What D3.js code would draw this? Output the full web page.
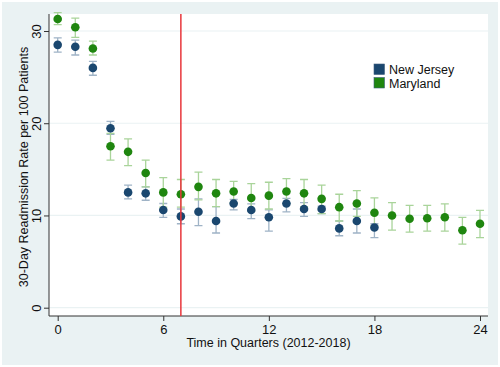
<!DOCTYPE html>
<html lang="en">
<head>
<meta charset="utf-8">
<title>Readmission Rates</title>
<style>
  body { margin: 0; background: #fff; }
  text { font-family: "Liberation Sans", Arial, sans-serif; fill: #111; }
  .ci { fill: none; stroke-width: 1.3px; }
</style>
</head>
<body>
<script src="https://d3js.org/d3.v7.min.js"></script>
<script>
  // quarters since 2012 Q1
  const quarters = d3.range(0, 25);

  // New Jersey (quarters 0-18)
  const njMean = [28.5, 28.3, 26.0, 19.45, 12.5, 12.4, 10.6, 9.9, 10.4, 9.4, 11.3, 10.6, 9.8, 11.3, 10.7, 10.7, 8.6, 9.4, 8.7];
  const njLo   = [27.7, 27.4, 25.2, 18.8, 11.8, 11.65, 9.8, 9.1, 8.9, 8.1, 10.6, 9.65, 8.3, 10.4, 9.9, 10.2, 7.8, 8.1, 7.6];
  const njHi   = [29.25, 29.0, 26.7, 20.2, 13.3, 13.1, 11.3, 10.7, 11.8, 10.95, 11.75, 11.25, 10.6, 11.85, 11.4, 11.0, 9.4, 10.7, 9.1];

  // Maryland (quarters 0-24)
  const mdMean = [31.3, 30.4, 28.1, 17.5, 16.9, 14.6, 12.5, 12.3, 13.1, 12.4, 12.6, 11.9, 12.15, 12.6, 12.4, 11.8, 10.9, 11.3, 10.3, 10.0, 9.65, 9.7, 9.8, 8.4, 9.1];
  const mdLo   = [30.7, 29.3, 27.4, 16.0, 15.4, 13.1, 10.9, 10.9, 11.7, 10.95, 11.4, 10.5, 10.7, 11.3, 10.95, 10.2, 9.4, 9.9, 8.9, 8.4, 8.2, 8.3, 8.3, 6.9, 7.6];
  const mdHi   = [32.0, 31.4, 28.9, 18.9, 18.3, 16.0, 14.1, 13.9, 14.7, 13.9, 13.7, 13.45, 13.6, 14.0, 13.9, 13.3, 12.3, 12.7, 11.9, 11.4, 11.1, 11.1, 11.25, 9.8, 10.55];

  const xTicks = [0, 6, 12, 18, 24];
  const yTicks = [0, 10, 20, 30];
  const policyQuarter = 7;

  const series = [
    {name: "New Jersey", mean: njMean, lo: njLo, hi: njHi, dot: "#1a476f", bar: "#9fb3c6"},
    {name: "Maryland", mean: mdMean, lo: mdLo, hi: mdHi, dot: "#1f860f", bar: "#a9d49a"}
  ];

  const W = 500, H = 367;
  const plot = {left: 49, right: 488, top: 14, bottom: 316};

  const x = d3.scaleLinear().domain([0, 24]).range([57.7, 480]);
  const y = d3.scaleLinear().domain([0, 30]).range([307.7, 31]);

  const svg = d3.select("body").append("svg")
    .attr("width", W)
    .attr("height", H);

  // outer background
  svg.append("rect")
    .attr("x", 2).attr("y", 2)
    .attr("width", W - 4).attr("height", H - 4)
    .attr("fill", "#eaf2f3");

  // plot region
  svg.append("rect")
    .attr("x", plot.left).attr("y", plot.top)
    .attr("width", plot.right - plot.left)
    .attr("height", plot.bottom - plot.top)
    .attr("fill", "#fff");

  // grid lines
  svg.append("g").selectAll("line")
    .data(yTicks)
    .join("line")
    .attr("x1", plot.left).attr("x2", plot.right)
    .attr("y1", d => y(d)).attr("y2", d => y(d))
    .attr("stroke", "#eaf2f3")
    .attr("stroke-width", 1.2);

  // y axis
  const yAxis = svg.append("g")
    .attr("transform", `translate(${plot.left},0)`)
    .call(d3.axisLeft(y).tickValues(yTicks).tickSize(5).tickPadding(3));
  yAxis.select(".domain").attr("d", `M0,${plot.top}V${plot.bottom}`).attr("stroke", "#333");
  yAxis.selectAll(".tick line").attr("stroke", "#333");
  yAxis.selectAll(".tick text")
    .attr("font-size", 13)
    .attr("font-family", "Liberation Sans, Arial, sans-serif")
    .attr("fill", "#111")
    .attr("text-anchor", "middle")
    .attr("dy", 0)
    .attr("x", 0)
    .attr("transform", "translate(-8,0) rotate(-90)");

  // x axis
  const xAxis = svg.append("g")
    .attr("transform", `translate(0,${plot.bottom})`)
    .call(d3.axisBottom(x).tickValues(xTicks).tickSize(5).tickPadding(4));
  xAxis.select(".domain").attr("d", `M${plot.left},0H${plot.right}`).attr("stroke", "#333");
  xAxis.selectAll(".tick line").attr("stroke", "#333");
  xAxis.selectAll(".tick text")
    .attr("font-size", 13)
    .attr("font-family", "Liberation Sans, Arial, sans-serif")
    .attr("fill", "#111");

  // axis titles
  svg.append("text")
    .attr("transform", `translate(28,${(plot.top + plot.bottom) / 2 + 2}) rotate(-90)`)
    .attr("text-anchor", "middle")
    .attr("font-size", 12.5)
    .text("30-Day Readmission Rate per 100 Patients");

  svg.append("text")
    .attr("x", 268.5).attr("y", 347)
    .attr("text-anchor", "middle")
    .attr("font-size", 12.5)
    .text("Time in Quarters (2012-2018)");

  // error bars, then dots (drawn per series, NJ first)
  const cap = 4;
  series.forEach(s => {
    const g = svg.append("g");
    const rows = s.mean.map((m, i) => ({q: quarters[i], m, lo: s.lo[i], hi: s.hi[i]}));
    g.selectAll("path.ci")
      .data(rows)
      .join("path")
      .attr("class", "ci")
      .attr("stroke", s.bar)
      .attr("d", d => `M${x(d.q) - cap},${y(d.hi)}H${x(d.q) + cap}M${x(d.q)},${y(d.hi)}V${y(d.lo)}M${x(d.q) - cap},${y(d.lo)}H${x(d.q) + cap}`);
    s.rows = rows;
  });

  series.forEach(s => {
    svg.append("g").selectAll("circle")
      .data(s.rows)
      .join("circle")
      .attr("cx", d => x(d.q))
      .attr("cy", d => y(d.m))
      .attr("r", 4.3)
      .attr("fill", s.dot);
  });

  // policy line
  svg.append("line")
    .attr("x1", x(policyQuarter)).attr("x2", x(policyQuarter))
    .attr("y1", plot.top).attr("y2", plot.bottom)
    .attr("stroke", "#e8363b")
    .attr("stroke-width", 1.5);

  // legend
  const legend = svg.append("g").attr("transform", "translate(374,64)");
  series.forEach((s, i) => {
    legend.append("rect")
      .attr("x", 0).attr("y", i * 13.5)
      .attr("width", 10.5).attr("height", 10.5)
      .attr("fill", s.dot)
      .attr("stroke", "#3f5f7f")
      .attr("stroke-width", 0.6);
    legend.append("text")
      .attr("x", 15).attr("y", i * 13.5 + 10)
      .attr("font-size", 12.5)
      .text(s.name);
  });
</script>
</body>
</html>
